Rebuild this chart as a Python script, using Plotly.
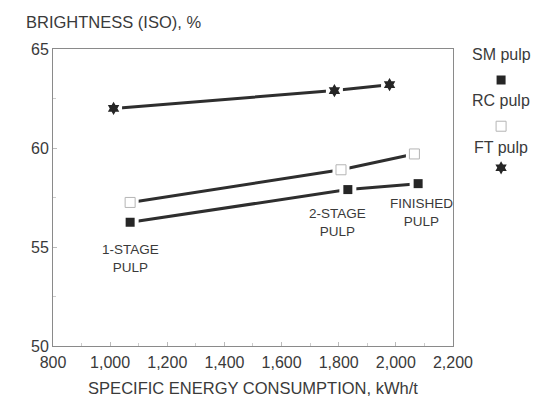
import plotly.graph_objects as go

# Specific energy consumption (kWh/t) and ISO brightness (%) for each pulp stage
stages = ["1-STAGE PULP", "2-STAGE PULP", "FINISHED PULP"]
sm_energy = [1070, 1832, 2078]
sm_brightness = [56.25, 57.9, 58.2]
rc_energy = [1070, 1808, 2065]
rc_brightness = [57.25, 58.9, 59.7]
ft_energy = [1012, 1785, 1978]
ft_brightness = [62.0, 62.9, 63.2]

x_ticks = [800, 1000, 1200, 1400, 1600, 1800, 2000, 2200]
y_ticks = [50, 55, 60, 65]

FONT = "Liberation Sans, Arial, sans-serif"
TXT = "#3a3a3a"
LINE = "#2e2e2e"
AXIS = "#8a8a8a"

series = [
    ("SM pulp", sm_energy, sm_brightness, dict(symbol="square", size=9, color="#262626",
                                               line=dict(width=0))),
    ("RC pulp", rc_energy, rc_brightness, dict(symbol="square", size=10, color="white",
                                               line=dict(width=1, color="#b5b5b5"))),
    ("FT pulp", ft_energy, ft_brightness, dict(symbol="hexagram", size=10, color="#262626",
                                               line=dict(width=0))),
]

fig = go.Figure()

# connecting lines
for name, xs, ys, mk in series:
    fig.add_trace(go.Scatter(x=xs, y=ys, mode="lines", line=dict(color=LINE, width=3),
                             hoverinfo="skip", showlegend=False))
# white halos leave a small gap between each line and its markers
for name, xs, ys, mk in series:
    fig.add_trace(go.Scatter(x=xs, y=ys, mode="markers",
                             marker=dict(symbol="square", size=17, color="white"),
                             hoverinfo="skip", showlegend=False))
for name, xs, ys, mk in series:
    fig.add_trace(go.Scatter(x=xs, y=ys, mode="markers", marker=mk, name=name,
                             showlegend=False))

# legend column on the right, drawn on its own overlay axes
legend_text_y = [0.98, 0.825, 0.667]
legend_mark_y = [0.896, 0.74, 0.60]
for (name, xs, ys, mk), ty, my in zip(series, legend_text_y, legend_mark_y):
    fig.add_trace(go.Scatter(x=[0.5], y=[my], mode="markers", marker=mk,
                             xaxis="x2", yaxis="y2", hoverinfo="skip", showlegend=False))
    fig.add_annotation(x=0.5, y=ty, xref="x2", yref="y2", text=name,
                       showarrow=False, font=dict(family=FONT, size=16, color=TXT))

# stage labels beneath the SM pulp points
yshifts = [-36, -33, -29]
xshifts = [0, -10, 3]
for i, st in enumerate(stages):
    a, b = st.rsplit(" ", 1)
    fig.add_annotation(x=sm_energy[i], y=sm_brightness[i], text=f"{a}<br>{b}",
                       showarrow=False, yshift=yshifts[i], xshift=xshifts[i],
                       font=dict(family=FONT, size=13.5, color=TXT))

fig.add_annotation(x=0, y=1, xref="paper", yref="paper", xanchor="left", yanchor="middle",
                   text="BRIGHTNESS (ISO), %", showarrow=False, xshift=-29, yshift=27,
                   font=dict(family=FONT, size=16.5, color=TXT))

fig.update_layout(
    width=533, height=397,
    margin=dict(l=53, r=0, t=49, b=51, autoexpand=False),
    paper_bgcolor="white", plot_bgcolor="white",
    font=dict(family=FONT, color=TXT),
    xaxis=dict(domain=[0, 0.8333], range=[800, 2200], tickvals=x_ticks, tickformat=",d",
               ticks="inside", ticklen=4, tickcolor="#bbbbbb", showline=True,
               linecolor=AXIS, linewidth=1, mirror=True, showgrid=False, zeroline=False,
               ticklabelstandoff=2, automargin=False,
               minor=dict(dtick=100, ticks="inside", ticklen=3, tickcolor="#cccccc"),
               tickfont=dict(family=FONT, size=16, color=TXT),
               title=dict(text="SPECIFIC ENERGY CONSUMPTION, kWh/t", standoff=12,
                          font=dict(family=FONT, size=16.5, color=TXT))),
    yaxis=dict(range=[50, 65], tickvals=y_ticks, ticks="inside", ticklen=4,
               tickcolor="#bbbbbb", showline=True, linecolor=AXIS, linewidth=1,
               mirror=True, showgrid=False, zeroline=False, automargin=False,
               minor=dict(dtick=2.5, ticks="inside", ticklen=3, tickcolor="#cccccc"),
               tickfont=dict(family=FONT, size=16, color=TXT)),
    xaxis2=dict(domain=[0.867, 1.0], range=[0, 1], visible=False, anchor="y2"),
    yaxis2=dict(domain=[0, 1], range=[0, 1], visible=False, anchor="x2"),
)

fig.write_html("out.html")
